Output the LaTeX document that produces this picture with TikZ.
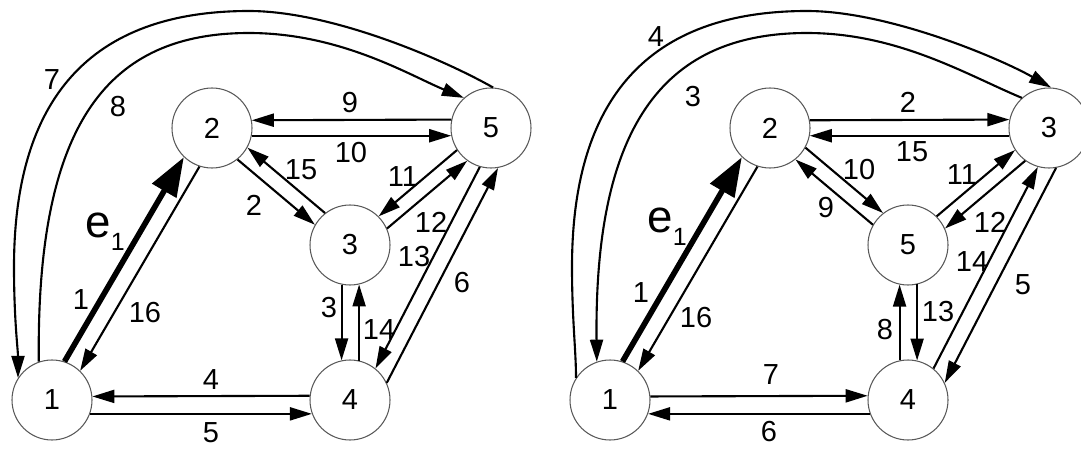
\documentclass[tikz,border=0pt]{standalone}
\usepackage{fontspec}
\setmainfont{Liberation Sans}
\usetikzlibrary{arrows.meta}

\begin{document}
\begin{tikzpicture}[
  vtx/.style={circle, draw=black!65, line width=0.6pt, minimum size=1.6cm, inner sep=0pt, font=\fontsize{16.5}{18}\selectfont},
  lab/.style={inner sep=0pt, font=\fontsize{16.5}{18}\selectfont},
  elab/.style={inner sep=0pt, anchor=base west, font=\fontsize{26}{28}\selectfont},
  arr/.style={-{Triangle[length=0.44cm, width=0.26cm]}, line width=1.2pt},
  fat/.style={-{Triangle[length=0.78cm, width=0.54cm]}, line width=3.2pt}
]
\useasboundingbox (0,0) rectangle (21.62,9.0);

% Left graph
\node[vtx] (a1) at (1.04, 1.0) {1};
\node[vtx] (a2) at (4.24, 6.44) {2};
\node[vtx] (a3) at (7.0, 4.1) {3};
\node[vtx] (a4) at (7.0, 1.0) {4};
\node[vtx] (a5) at (9.82, 6.44) {5};

% Right graph
\node[vtx] (b1) at (12.2, 1.0) {1};
\node[vtx] (b2) at (15.4, 6.44) {2};
\node[vtx] (b3) at (20.98, 6.44) {3};
\node[vtx] (b4) at (18.16, 1.0) {4};
\node[vtx] (b5) at (18.16, 4.1) {5};

% Left edges
\draw[fat] (a1.72.5) -- (a2.226.5);
\draw[arr] (a2.252.5) -- (a1.46.5);
\draw[arr] (a5.168.5) -- (a2.11.5);
\draw[arr] (a2.-11.5) -- (a5.191.5);
\draw[arr] (a2.-51.3) -- (a3.150.7);
\draw[arr] (a3.128.7) -- (a2.-29.3);
\draw[arr] (a5.213.7) -- (a3.45.7);
\draw[arr] (a3.24.7) -- (a5.234.7);
\draw[arr] (a3.-102) -- (a4.102);
\draw[arr] (a4.77) -- (a3.-77);
\draw[arr] (a5.254.1) -- (a4.51.1);
\draw[arr] (a4.25.1) -- (a5.280.1);
\draw[arr] (a4.174.3) -- (a1.5.7);
\draw[arr] (a1.-20.5) -- (a4.200.5);
\draw[arr] (a5.87) .. controls (8.82,7.84) and (6.60,8.78) .. (4.98,8.78)
  .. controls (1.80,8.78) and (0.28,7.02) .. (0.28,3.66)
  .. controls (0.28,2.6) and (0.36,2.0) .. (a1.147);
\draw[arr] (a1.109) .. controls (0.72,6.60) and (2.20,8.34) .. (4.98,8.34)
  .. controls (6.80,8.34) and (8.18,7.50) .. (a5.132);

% Right edges
\draw[fat] (b1.72.5) -- (b2.226.5);
\draw[arr] (b2.252.5) -- (b1.46.5);
\draw[arr] (b2.11.5) -- (b3.168.5);
\draw[arr] (b3.191.5) -- (b2.-11.5);
\draw[arr] (b2.-29.3) -- (b5.128.7);
\draw[arr] (b5.150.7) -- (b2.-51.3);
\draw[arr] (b5.45.7) -- (b3.213.7);
\draw[arr] (b3.234.7) -- (b5.24.7);
\draw[arr] (b4.102) -- (b5.-102);
\draw[arr] (b5.-77) -- (b4.77);
\draw[arr] (b4.51.1) -- (b3.254.1);
\draw[arr] (b3.280.1) -- (b4.25.1);
\draw[arr] (b1.5.7) -- (b4.174.3);
\draw[arr] (b4.200.5) -- (b1.-20.5);
\begin{scope}[xshift=11.16cm]
\draw[arr] (b1.147) .. controls (0.36,2.0) and (0.28,2.6) .. (0.28,3.66)
  .. controls (0.28,7.02) and (1.80,8.78) .. (4.98,8.78)
  .. controls (6.60,8.78) and (8.82,7.84) .. (b3.87);
\draw[arr] (b3.132) .. controls (8.18,7.50) and (6.80,8.34) .. (4.98,8.34)
  .. controls (2.20,8.34) and (0.72,6.60) .. (b1.109);
\end{scope}

% Left labels
\node[elab] (lae) at (1.70, 4.26) {e\raisebox{-0.26cm}{\fontsize{14.2}{15}\selectfont 1}};
\node[lab] (la1) at (1.62, 3.00) {1};
\node[lab] (la16) at (2.90, 2.74) {16};
\node[lab] (la7) at (1.04, 7.40) {7};
\node[lab] (la8) at (2.36, 6.86) {8};
\node[lab] (la9) at (7.00, 6.94) {9};
\node[lab] (la10) at (7.02, 5.94) {10};
\node[lab] (la15) at (6.02, 5.60) {15};
\node[lab] (la2) at (5.08, 4.90) {2};
\node[lab] (la11) at (8.06, 5.46) {11};
\node[lab] (la12) at (8.62, 4.56) {12};
\node[lab] (la13) at (8.28, 3.86) {13};
\node[lab] (la6) at (9.24, 3.34) {6};
\node[lab] (la3) at (6.58, 2.84) {3};
\node[lab] (la14) at (7.58, 2.40) {14};
\node[lab] (la4) at (4.22, 1.40) {4};
\node[lab] (la5) at (4.22, 0.34) {5};

% Right labels
\node[elab] (lbe) at (12.94, 4.36) {e\raisebox{-0.26cm}{\fontsize{14.2}{15}\selectfont 1}};
\node[lab] (lb1) at (12.82, 3.14) {1};
\node[lab] (lb16) at (13.92, 2.64) {16};
\node[lab] (lb4) at (13.12, 8.26) {4};
\node[lab] (lb3) at (13.86, 7.06) {3};
\node[lab] (lb2) at (18.16, 6.96) {2};
\node[lab] (lb15) at (18.24, 5.96) {15};
\node[lab] (lb10) at (17.18, 5.60) {10};
\node[lab] (lb9) at (16.52, 4.84) {9};
\node[lab] (lb11) at (19.24, 5.50) {11};
\node[lab] (lb12) at (19.80, 4.56) {12};
\node[lab] (lb14) at (19.44, 3.76) {14};
\node[lab] (lb5) at (20.46, 3.30) {5};
\node[lab] (lb13) at (18.76, 2.76) {13};
\node[lab] (lb8) at (17.70, 2.40) {8};
\node[lab] (lb7) at (15.42, 1.50) {7};
\node[lab] (lb6) at (15.38, 0.36) {6};
\end{tikzpicture}
\end{document}
